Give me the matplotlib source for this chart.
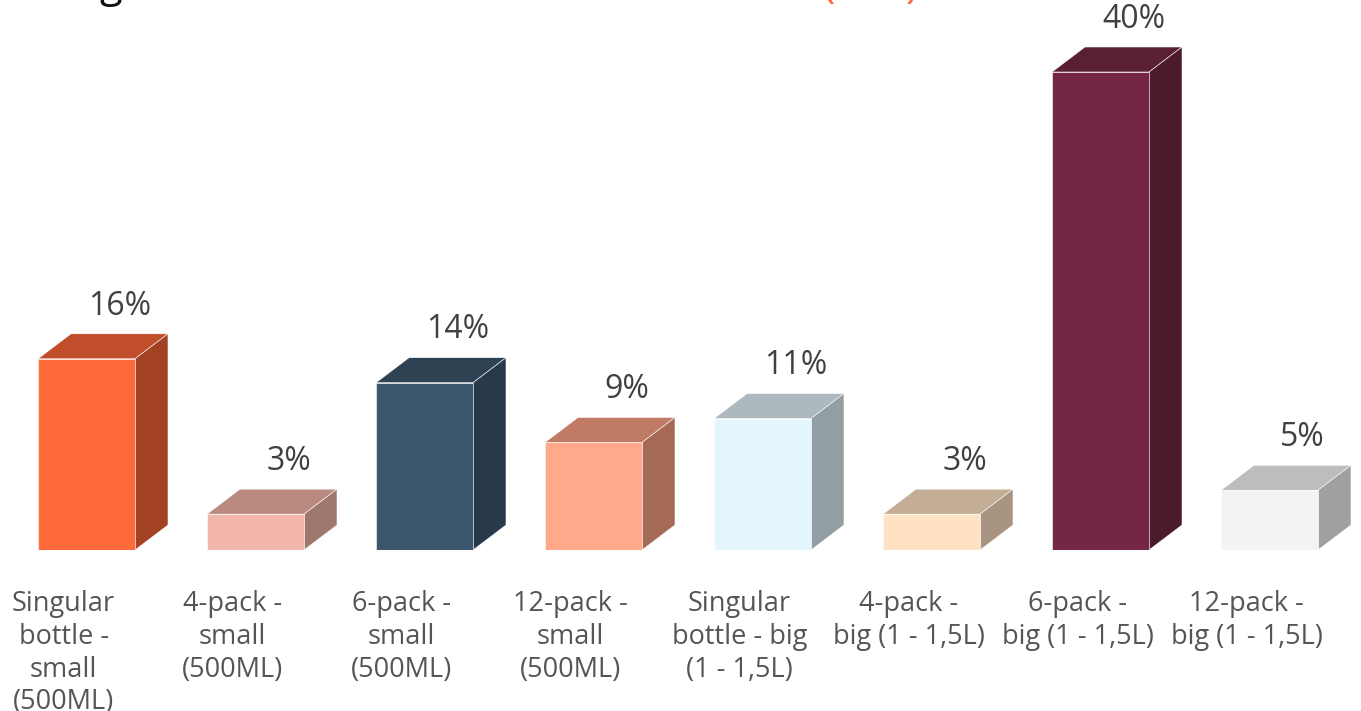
import matplotlib
matplotlib.use("Agg")
import matplotlib.pyplot as plt
from matplotlib.patches import Polygon

# ── Data ───────────────────────────────────────────────────────
categories = [
    "Singular\nbottle -\nsmall\n(500ML)",
    "4-pack -\nsmall\n(500ML)",
    "6-pack -\nsmall\n(500ML)",
    "12-pack -\nsmall\n(500ML)",
    "Singular\nbottle - big\n(1 - 1,5L)",
    "4-pack -\nbig (1 - 1,5L)",
    "6-pack -\nbig (1 - 1,5L)",
    "12-pack -\nbig (1 - 1,5L)",
]
shares = [16, 3, 14, 9, 11, 3, 40, 5]
labels = ["16%", "3%", "14%", "9%", "11%", "3%", "40%", "5%"]

# front / top / side shades per bar
front_colors = ["#FF6A3A", "#F2B5AA", "#3B566D", "#FFA88A",
                "#E3F5FD", "#FFE2C4", "#752645", "#F3F3F5"]
top_colors = ["#C14E2A", "#BA8A80", "#2E4254", "#C17A64",
              "#ADB9BF", "#C4AD95", "#5A1E35", "#BDBDBD"]
side_colors = ["#A34124", "#9E776E", "#27394A", "#A56A56",
               "#939EA3", "#A89480", "#4C1A2D", "#A0A0A0"]

# ── Figure ─────────────────────────────────────────────────────
W, H = 1361, 711
fig = plt.figure(figsize=(W / 100, H / 100), dpi=100)
fig.patch.set_facecolor("white")

px_per_unit = 11.95
x0_px, base_px = 86.5, 550
ax = fig.add_axes([0, (H - base_px) / H, 1, base_px / H])
ax.set_xlim(-x0_px / 169, (W - x0_px) / 169)
ax.set_ylim(0, base_px / px_per_unit)
ax.axis("off")

width = 97 / 169
dx = 33 / 169
dy = 25 / px_per_unit
xs = list(range(len(shares)))

ax.bar(xs, shares, width=width, color=front_colors,
       edgecolor="white", linewidth=0.4, zorder=3)

for x, v, tc, sc in zip(xs, shares, top_colors, side_colors):
    l, r = x - width / 2, x + width / 2
    top = Polygon([(l, v), (r, v), (r + dx, v + dy), (l + dx, v + dy)],
                  closed=True, facecolor=tc, edgecolor="white",
                  linewidth=0.4, zorder=2)
    side = Polygon([(r, 0), (r + dx, dy), (r + dx, v + dy), (r, v)],
                   closed=True, facecolor=sc, edgecolor="white",
                   linewidth=0.4, zorder=2)
    ax.add_patch(top)
    ax.add_patch(side)

for x, v, lab in zip(xs, shares, labels):
    ax.annotate(lab, (x + dx, v + dy), xytext=(0, 20),
                textcoords="offset points", ha="center", va="center",
                fontsize=23, color="#404040", family="Open Sans",
                annotation_clip=False)

for x, cat in zip(xs, categories):
    ax.annotate(cat, (x - 0.135, 0), xytext=(0, -29),
                textcoords="offset points", ha="center", va="top",
                fontsize=19.5, color="#555555", family="Open Sans",
                linespacing=1.22, annotation_clip=False)

# title mostly cut off above the canvas: only descenders show
fig.text(111 / W, 1 + 3 / H, "g", fontsize=30, color="#111111",
         ha="center", va="baseline", family="Open Sans")
fig.text(829 / W, 1 + 3 / H, "(", fontsize=30, color="#FF6A3A",
         ha="center", va="baseline", family="Open Sans")
fig.text(912 / W, 1 + 3 / H, ")", fontsize=30, color="#FF6A3A",
         ha="center", va="baseline", family="Open Sans")

fig.savefig("out.png", dpi=100)
plt.close(fig)
